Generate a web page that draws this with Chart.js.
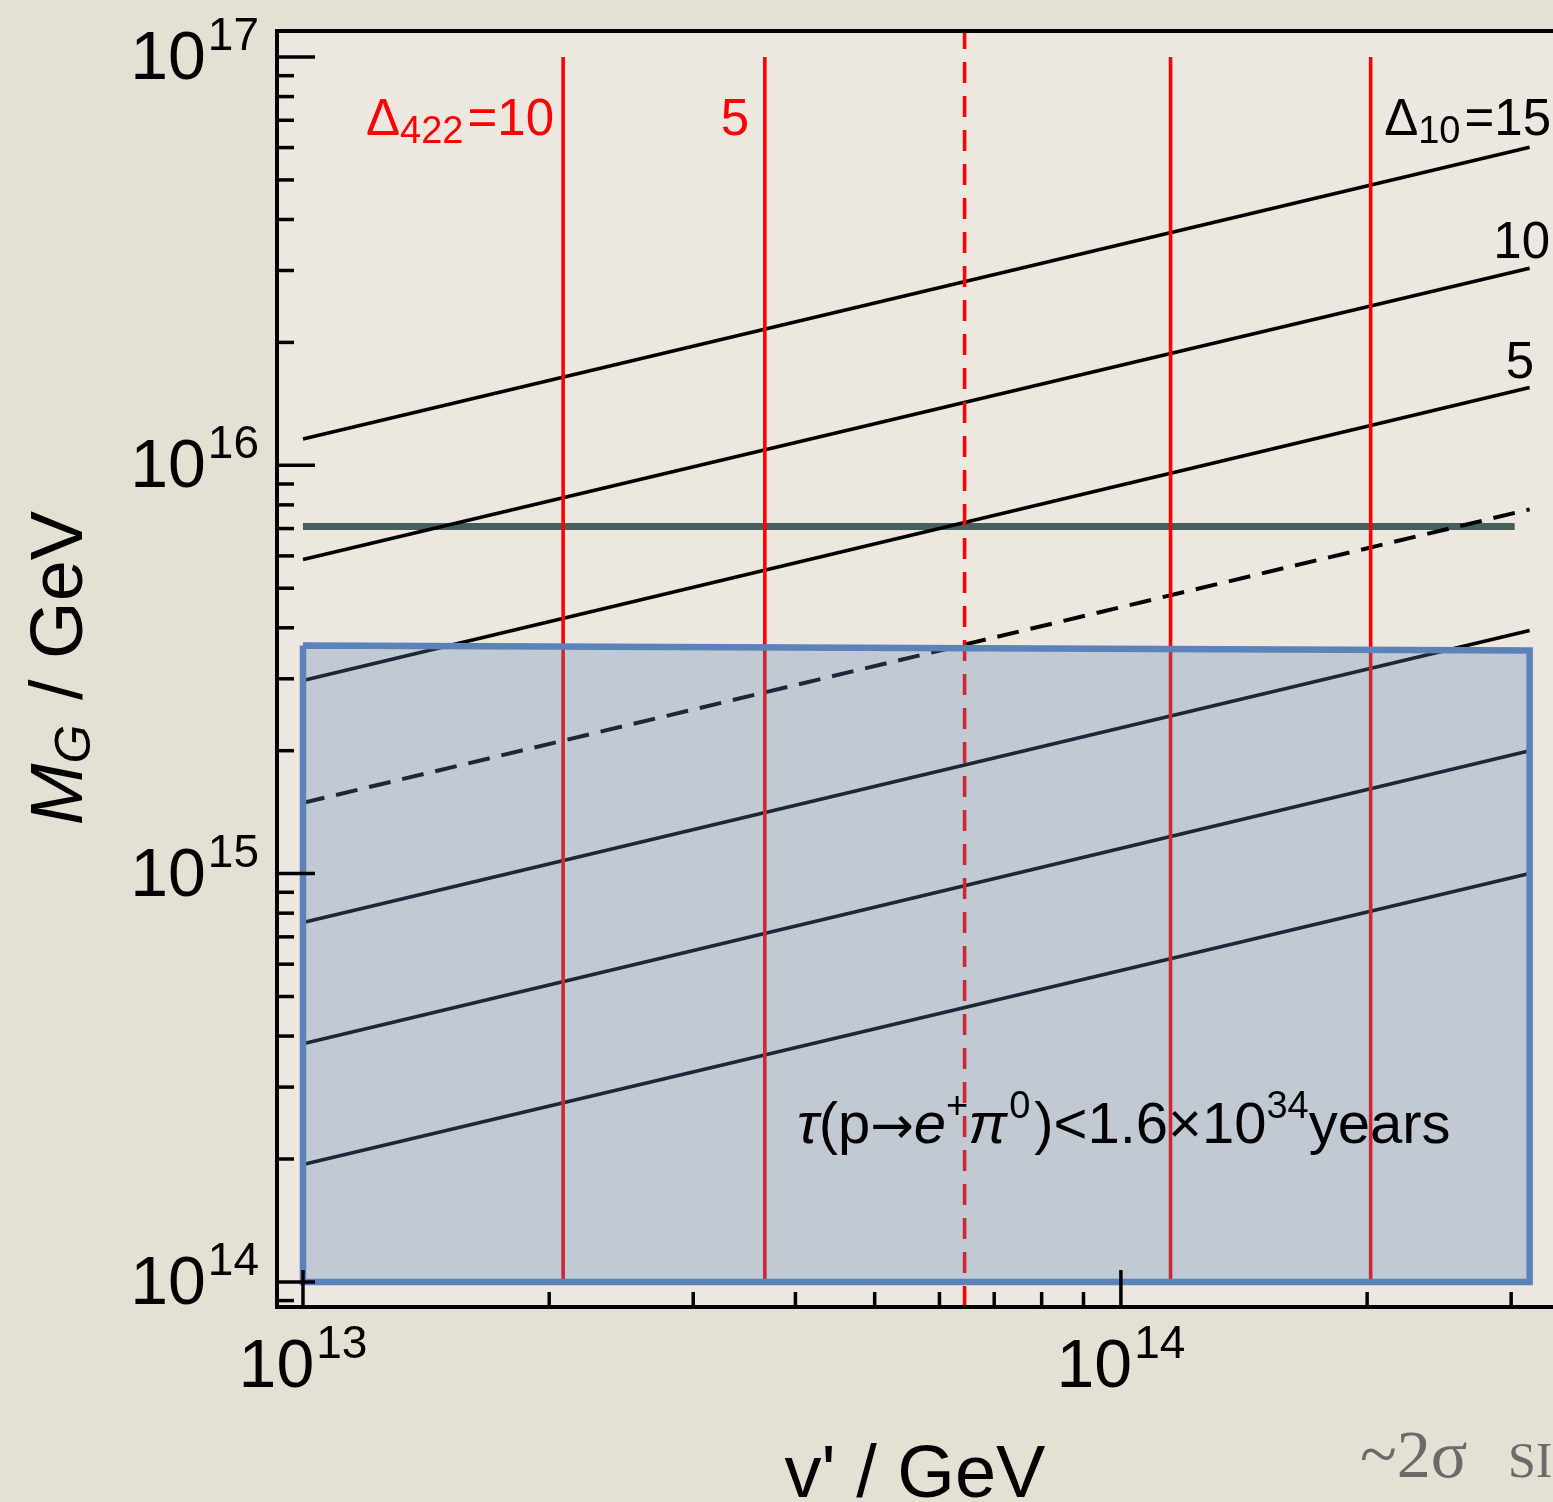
<!DOCTYPE html>
<html><head><meta charset="utf-8">
<script src="https://cdn.jsdelivr.net/npm/chart.js@4/dist/chart.umd.min.js"></script>
<style>html,body{margin:0;padding:0;background:#e5e0d4;overflow:hidden;}canvas{display:block;}</style>
</head><body>
<canvas id="c" width="1553" height="1502"></canvas>
<script>
// ---- data ----
const xRange = [9.295e12, 3.375e14];          // v' / GeV axis extent
const yRange = [8.68e13, 1.158e17];           // M_G / GeV axis extent
const lineX = [1e13, 3.16e14];                // x extent of the Δ10 lines
const d10_15 = [1.16e16, 6.01e16];
const d10_10 = [5.88e15, 3.04e16];
const d10_5 = [2.97e15, 1.55e16];
const d10_dashed = [1.49e15, 7.80e15];
const d10_low1 = [7.59e14, 3.94e15];
const d10_low2 = [3.83e14, 2.00e15];
const d10_low3 = [1.94e14, 1.00e15];
const d422X = [2.08e13, 3.67e13, 1.15e14, 2.02e14];  // solid red Δ422 lines
const d422Y = [1e14, 1e17];
const d422DashedX = 6.44e13;                          // dashed red line
const boundX = [1e13, 3.03e14];                       // horizontal bound line
const boundY = 7.08e15;
const boxX = [1e13, 3.16e14, 3.16e14, 1e13, 1e13];    // excluded region
const boxY = [3.62e15, 3.52e15, 1e14, 1e14, 3.62e15];
const xTickExps = [13, 14];
const yTickExps = [14, 15, 16, 17];
const d10Labels = ['15', '10', '5'];
const d422Labels = ['10', '5'];

const FONT = "'Liberation Sans', Arial, Helvetica, sans-serif";
function fnt(size, italic, fam) { return (italic ? 'italic ' : '') + size + 'px ' + (fam || FONT); }
function drawRuns(ctx, runs, x, y, align) {
  let w = 0;
  const ws = runs.map(r => { ctx.font = fnt(r[1], r[3], r[5]); const m = ctx.measureText(r[0]).width + (r[4] || 0); w += m; return m; });
  let cx = align === 'right' ? x - w : (align === 'center' ? x - w / 2 : x);
  ctx.textAlign = 'left'; ctx.textBaseline = 'alphabetic';
  runs.forEach((r, i) => { ctx.font = fnt(r[1], r[3], r[5]); ctx.fillText(r[0], cx, y + r[2]); cx += ws[i]; });
}
const pts = (xs, ys) => xs.map((x, i) => ({x, y: ys[i]}));
const isNice = v => { const m = v / Math.pow(10, Math.floor(Math.log10(v) + 1e-9)); return Math.abs(m - Math.round(m)) < 1e-6; };
const isMajor = v => Math.abs(Math.log10(v) - Math.round(Math.log10(v))) < 1e-6;

const bgPlugin = {
  id: 'bg',
  beforeDraw(chart) {
    const {ctx, chartArea: a} = chart;
    ctx.save(); ctx.fillStyle = '#ece8df'; ctx.fillRect(a.left, a.top, a.right - a.left, a.bottom - a.top); ctx.restore();
  }
};
const decoPlugin = {
  id: 'deco',
  afterDraw(chart) {
    const {ctx, chartArea: a, scales: {x, y}} = chart;
    ctx.save();
    // frame
    ctx.strokeStyle = '#000'; ctx.lineWidth = 4; ctx.lineCap = 'butt';
    ctx.beginPath();
    ctx.moveTo(a.right + 5, a.top); ctx.lineTo(a.left, a.top); ctx.lineTo(a.left, a.bottom); ctx.lineTo(a.right + 5, a.bottom);
    ctx.stroke();
    // inward ticks
    ctx.lineWidth = 3.5;
    y.ticks.forEach(t => {
      if (!isNice(t.value)) return;
      const py = y.getPixelForValue(t.value);
      const len = isMajor(t.value) ? 38 : 17;
      ctx.beginPath(); ctx.moveTo(a.left, py); ctx.lineTo(a.left + len, py); ctx.stroke();
    });
    x.ticks.forEach(t => {
      if (!isNice(t.value)) return;
      const px = x.getPixelForValue(t.value);
      const len = isMajor(t.value) ? 37 : 15;
      ctx.beginPath(); ctx.moveTo(px, a.bottom); ctx.lineTo(px, a.bottom - len); ctx.stroke();
    });
    // tick labels
    ctx.fillStyle = '#000';
    xTickExps.forEach(e => {
      const px = x.getPixelForValue(Math.pow(10, e));
      drawRuns(ctx, [['10', 68, 0, false, 2], [String(e), 46, -29]], px, a.bottom + 80, 'center');
    });
    yTickExps.forEach(e => {
      const py = y.getPixelForValue(Math.pow(10, e));
      drawRuns(ctx, [['10', 68, 0, false, 2], [String(e), 46, -29]], 259, py + 22, 'right');
    });
    // axis titles
    drawRuns(ctx, [["v' / GeV", 74, 0]], 915, 1497, 'center');
    ctx.save(); ctx.translate(82, 668); ctx.rotate(-Math.PI / 2);
    drawRuns(ctx, [['M', 74, 0, true], ['G', 50, 8, true, 4], [' / GeV', 74, 0]], 0, 0, 'center');
    ctx.restore();
    // Δ10 labels
    drawRuns(ctx, [['Δ', 51, 0], ['10', 38, 8, false, 4], ['=' + d10Labels[0], 51, 0]], 1551, 135, 'right');
    drawRuns(ctx, [[d10Labels[1], 51, 0]], 1550, 258, 'right');
    drawRuns(ctx, [[d10Labels[2], 51, 0]], 1534, 378, 'right');
    // Δ422 labels
    ctx.fillStyle = '#ff0000';
    drawRuns(ctx, [['Δ', 51, 0], ['422', 38, 8, false, 4], ['=' + d422Labels[0], 51, 0]], 554, 135, 'right');
    drawRuns(ctx, [[d422Labels[1], 51, 0]], 749, 135, 'right');
    // proton decay bound text
    ctx.fillStyle = '#000';
    drawRuns(ctx, [['τ', 58, 0, true], ['(p', 58, 0], ['→', 52, 0, false, 0, "'DejaVu Sans', sans-serif"], ['e', 58, 0, true], ['+', 38, -25], ['π', 58, 0, true, 2], ['0', 38, -25, false, 4],
      [')<1.6×10', 58, 0], ['34', 38, -25], ['years', 58, 0]], 797, 1143, 'left');
    // slide text
    ctx.fillStyle = '#6a6a6a';
    ctx.font = "68px 'Liberation Serif', 'DejaVu Serif', serif";
    ctx.textAlign = 'left';
    ctx.fillText('~2σ', 1360, 1477);
    ctx.font = "50px 'Liberation Serif', 'DejaVu Serif', serif";
    ctx.fillText('SI', 1508, 1477);
    ctx.restore();
  }
};

const black = (data, dash) => ({data, showLine: true, borderColor: '#000', borderWidth: dash ? 4 : 3.6, borderDash: dash ? [22, 12] : [], pointRadius: 0, fill: false, order: 2, tension: 0});
const datasets = [
  {label: 'excluded', data: pts(boxX, boxY), showLine: true, fill: 'shape', backgroundColor: 'rgba(92,128,182,0.30)', borderColor: '#5b82b9', borderWidth: 6.5, borderJoinStyle: 'miter', pointRadius: 0, order: 0, tension: 0},
  ...d422X.map(v => ({data: pts([v, v], d422Y), showLine: true, borderColor: '#ff0000', borderWidth: 3.6, pointRadius: 0, fill: false, order: 1})),
  {data: pts([d422DashedX, d422DashedX], yRange), showLine: true, borderColor: '#ff0000', borderWidth: 3.6, borderDash: [21, 13], pointRadius: 0, fill: false, order: 1},
  black(pts(lineX, d10_15)), black(pts(lineX, d10_10)), black(pts(lineX, d10_5)), black(pts(lineX, d10_dashed), true),
  black(pts(lineX, d10_low1)), black(pts(lineX, d10_low2)), black(pts(lineX, d10_low3)),
  {data: pts(boundX, [boundY, boundY]), showLine: true, borderColor: '#455f5e', borderWidth: 7, pointRadius: 0, fill: false, order: 3}
];

new Chart(document.getElementById('c'), {
  type: 'scatter',
  data: {datasets},
  options: {
    responsive: false, animation: false, devicePixelRatio: 1,
    layout: {padding: {top: 31, right: 0, left: 0, bottom: 0}},
    plugins: {legend: {display: false}, tooltip: {enabled: false}},
    scales: {
      x: {type: 'logarithmic', min: xRange[0], max: xRange[1], grid: {display: false}, border: {display: false}, ticks: {display: false},
          afterFit(s) { s.height = 195; }},
      y: {type: 'logarithmic', min: yRange[0], max: yRange[1], grid: {display: false}, border: {display: false}, ticks: {display: false},
          afterFit(s) { s.width = 277; }}
    }
  },
  plugins: [bgPlugin, decoPlugin]
});
</script>
</body></html>
